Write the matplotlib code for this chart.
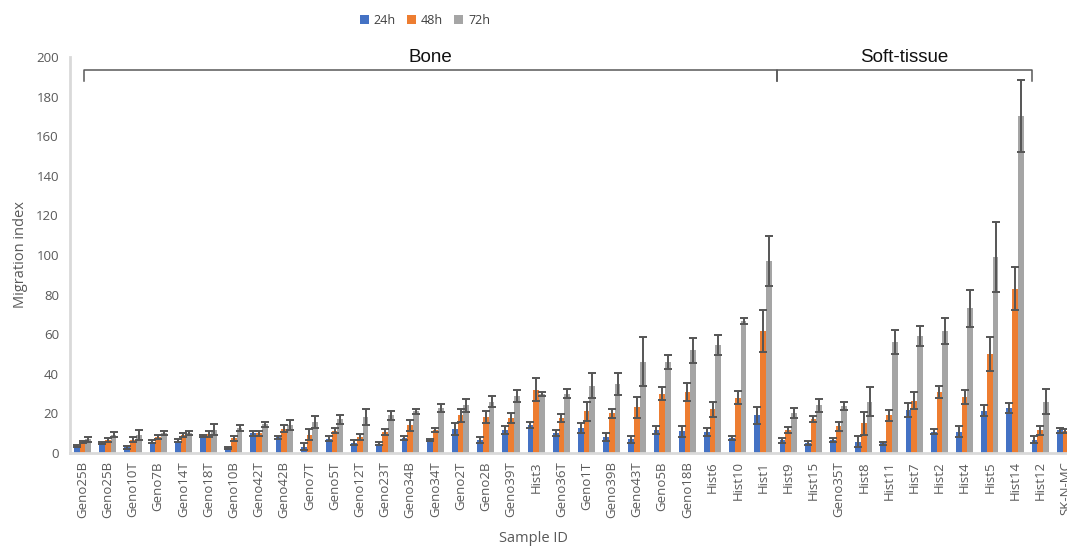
#!/usr/bin/env python3

import matplotlib
matplotlib.use('Agg')
import matplotlib.pyplot as plt
import matplotlib.transforms as mtrans
import numpy as np

samples = ['Geno25B', 'Geno25B', 'Geno10T', 'Geno7B', 'Geno14T', 'Geno18T',
           'Geno10B', 'Geno42T', 'Geno42B', 'Geno7T', 'Geno5T', 'Geno12T',
           'Geno23T', 'Geno34B', 'Geno34T', 'Geno2T', 'Geno2B', 'Geno39T',
           'Hist3', 'Geno36T', 'Geno1T', 'Geno39B', 'Geno43T', 'Geno5B',
           'Geno18B', 'Hist6', 'Hist10', 'Hist1',
           'Hist9', 'Hist15', 'Geno35T', 'Hist8', 'Hist11', 'Hist7', 'Hist2',
           'Hist4', 'Hist5', 'Hist14', 'Hist12', 'SK-N-MC']

h24 = [3.3, 5.0, 2.8, 5.8, 6.2, 8.7, 2.5, 10.0, 8.0, 3.2, 7.2, 5.2, 4.6, 7.6,
       6.6, 12.0, 6.6, 11.6, 14.0, 10.0, 12.6, 8.0, 7.0, 11.6, 11.0, 10.6,
       7.6, 19.0,
       6.5, 5.0, 6.6, 5.7, 5.0, 21.7, 10.8, 10.8, 21.4, 22.7, 6.7, 11.4]
h48 = [5.6, 6.7, 6.7, 8.0, 9.2, 9.7, 7.4, 10.0, 12.3, 9.2, 11.3, 8.2, 10.8,
       14.0, 11.6, 19.0, 18.0, 17.6, 32.0, 17.6, 21.0, 20.0, 23.0, 30.0,
       31.0, 22.0, 28.0, 61.6,
       11.6, 17.0, 13.6, 15.0, 19.0, 26.3, 30.8, 28.3, 50.0, 83.0, 11.4, 11.0]
h72 = [7.0, 9.2, 9.2, 10.0, 10.0, 11.8, 12.6, 14.6, 14.3, 15.8, 17.0, 18.0,
       19.0, 21.0, 22.7, 24.0, 26.0, 28.8, 29.8, 30.0, 34.0, 35.0, 46.0, 46.0,
       52.0, 54.6, 66.7, 97.0,
       20.0, 24.0, 23.7, 26.0, 56.0, 59.0, 61.6, 73.0, 99.0, 170.0, 26.0, 12.0]

err24 = [0.5, 0.6, 0.8, 1.0, 0.7, 0.6, 0.5, 1.2, 0.8, 1.7, 1.2, 1.3, 0.8, 1.0,
         0.3, 3.1, 1.3, 1.9, 1.5, 1.4, 2.5, 2.0, 1.7, 1.8, 2.8, 2.0, 0.8, 4.2,
         1.3, 1.0, 0.8, 2.7, 0.8, 3.6, 1.3, 2.9, 2.8, 2.5, 1.7, 1.4]
err48 = [0.7, 1.0, 1.3, 1.0, 1.0, 1.5, 1.3, 1.2, 1.7, 2.7, 1.3, 1.5, 1.5, 2.8,
         1.1, 3.2, 3.1, 2.5, 5.8, 2.1, 4.8, 2.2, 5.5, 3.4, 4.6, 3.9, 3.4, 10.6,
         1.5, 1.5, 2.3, 5.9, 2.8, 4.3, 2.9, 3.5, 8.8, 10.8, 2.1, 1.0]
err72 = [1.3, 1.3, 2.4, 1.0, 1.1, 2.7, 1.3, 1.3, 2.5, 3.1, 2.4, 4.0, 2.3, 1.4,
         2.1, 3.5, 3.0, 3.0, 1.1, 2.1, 6.4, 5.5, 12.4, 3.5, 6.3, 5.2, 1.7, 12.6,
         2.5, 3.2, 1.9, 7.4, 6.0, 5.2, 6.6, 9.4, 17.9, 18.2, 6.5, 1.5]

series = ['24h', '48h', '72h']
colors = ['#4472C4', '#ED7D31', '#A5A5A5']

# tissue groups: label and bracket ends in category units
groups = [('Bone', 0.06, 27.55), ('Soft-tissue', 27.55, 37.67)]

W, H = 1067, 547


def drawBracket(ax, fig, x0, x1, label):
    # data x, figure y: the bracket sits above the plotting area
    trans = mtrans.blended_transform_factory(ax.transData, fig.transFigure)
    yTop = 1 - 70/H
    yTip = 1 - 81/H
    ax.plot([x0, x0, x1, x1], [yTip, yTop, yTop, yTip], color='#595959',
            lw=1.1, transform=trans, clip_on=False)
    ax.text((x0 + x1)/2, 1 - 58/H, label, transform=trans, ha='center',
            va='center', fontsize=13.5, family='Liberation Sans',
            color='#111111')


def main():
    plt.rcParams['font.family'] = ['Open Sans', 'DejaVu Sans']
    fig = plt.figure(figsize=(W/100, H/100), dpi=100)
    n = len(samples)
    step = 25.2
    # last category runs past the right edge of the figure
    ax = fig.add_axes([70/W, 94/H, n*step/W, 396/H])

    x = np.arange(n)
    bw = 0.23
    values = [h24, h48, h72]
    errs = [err24, err48, err72]
    handles = []
    for k in range(3):
        pos = x + (k - 1)*bw
        b = ax.bar(pos, values[k], bw, color=colors[k], label=series[k],
                   zorder=2)
        ax.errorbar(pos, values[k], yerr=errs[k], fmt='none',
                    ecolor='#555555', elinewidth=1.4, capsize=3.2,
                    capthick=1.4, zorder=3)
        handles.append(b)

    ax.set_xlim(-0.5, n - 0.5)
    ax.set_ylim(0, 200)
    ax.set_yticks(np.arange(0, 201, 20))
    ax.set_xticks(x)
    ax.set_xticklabels(samples, rotation=90, fontsize=9.5, color='#595959')
    ax.tick_params(axis='y', labelsize=9.5, labelcolor='#595959', length=0,
                   pad=8)
    ax.tick_params(axis='x', length=0, pad=6)
    for s in ['top', 'right']:
        ax.spines[s].set_visible(False)
    for s in ['left', 'bottom']:
        ax.spines[s].set_color('#D9D9D9')
        ax.spines[s].set_linewidth(2)

    ax.set_ylabel('Migration index', fontsize=10.5, color='#595959',
                  labelpad=6)
    fig.text(0.5, 1 - 538/H, 'Sample ID', ha='center', va='center',
             fontsize=10.5, color='#595959')

    for name, x0, x1 in groups:
        drawBracket(ax, fig, x0, x1, name)

    fig.legend(handles, series, loc='center',
               bbox_to_anchor=(425/W, 1 - 20/H), ncol=3, frameon=False,
               fontsize=9, handlelength=0.7, handleheight=0.7,
               handletextpad=0.4, columnspacing=0.9, labelcolor='#404040')

    fig.savefig('out.png', dpi=100)


if __name__ == '__main__':
    main()
